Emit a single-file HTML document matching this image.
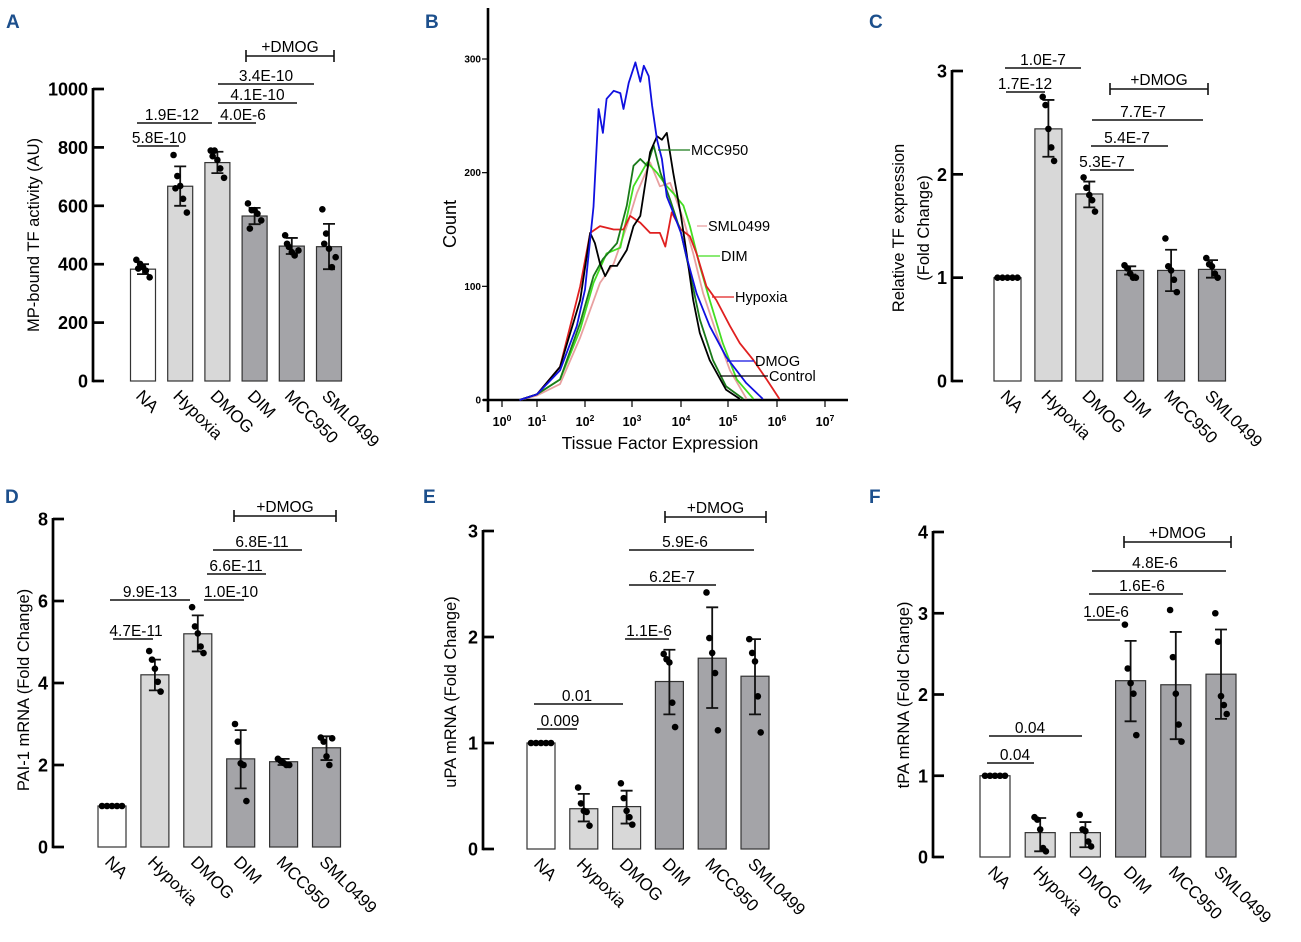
<!DOCTYPE html>
<html><head><meta charset="utf-8"><style>
html,body{margin:0;padding:0;background:#fff;}
svg{display:block;font-family:"Liberation Sans",Arial,sans-serif;}
</style></head><body>
<svg id="fig" width="1301" height="942" viewBox="0 0 1301 942" xmlns="http://www.w3.org/2000/svg">
<g font-weight="bold" font-size="19" fill="#1c4f8c">
<text x="6" y="28">A</text>
<text x="425" y="28">B</text>
<text x="869" y="28">C</text>
<text x="5" y="503">D</text>
<text x="423" y="503">E</text>
<text x="869" y="503">F</text>
</g>
</svg>
<script>
// ---------- shared categories ----------
const categories = ["NA","Hypoxia","DMOG","DIM","MCC950","SML0499"];

// ---------- Panel A data ----------
const aTicks = [0,200,400,600,800,1000];
const aMeans = [383,667,748,565,462,460];
const aErrHi = [400,735,785,593,490,538];
const aErrLo = [366,600,712,537,435,383];
const aPoints = [[415,401,390,378,355,385],[774,702,668,624,577,660],[789,789,757,728,696,770],[608,585,585,573,550,522],[499,459,441,430,447,470],[588,505,453,390,424,470]];
// ---------- Panel C data ----------
const cTicks = [0,1,2,3];
const cMeans = [1.0,2.44,1.81,1.07,1.07,1.08];
const cErrHi = [1.0,2.72,1.93,1.11,1.27,1.17];
const cErrLo = [1.0,2.17,1.68,1.03,0.87,1.0];
const cPoints = [[1,1,1,1,1],[2.75,2.67,2.44,2.26,2.13],[1.97,1.87,1.80,1.75,1.64],[1.12,1.09,1.04,1.0,1.0],[1.38,1.11,1.07,0.98,0.86],[1.19,1.13,1.11,1.04,1.0]];
// ---------- Panel D data ----------
const dTicks = [0,2,4,6,8];
const dMeans = [1,4.2,5.2,2.15,2.08,2.42];
const dErrHi = [1,4.57,5.65,2.85,2.15,2.7];
const dErrLo = [1,3.82,4.77,1.43,2.0,2.12];
const dPoints = [[1,1,1,1,1],[4.78,4.57,4.35,4.03,3.79],[5.85,5.38,5.21,4.89,4.73],[3.0,2.57,2.04,2.0,1.12],[2.15,2.1,2.05,2.0,2.0],[2.67,2.57,2.21,2.0,2.65]];
// ---------- Panel E data ----------
const eTicks = [0,1,2,3];
const eMeans = [1,0.38,0.40,1.58,1.80,1.63];
const eErrHi = [1,0.52,0.55,1.88,2.28,1.98];
const eErrLo = [1,0.26,0.24,1.27,1.33,1.27];
const ePoints = [[1,1,1,1,1],[0.58,0.43,0.36,0.35,0.22],[0.62,0.48,0.36,0.30,0.23],[1.84,1.79,1.76,1.38,1.15],[2.42,1.99,1.85,1.66,1.12],[1.98,1.85,1.77,1.44,1.10]];
// ---------- Panel F data ----------
const fTicks = [0,1,2,3,4];
const fMeans = [1,0.30,0.30,2.17,2.12,2.25];
const fErrHi = [1,0.48,0.43,2.66,2.77,2.80];
const fErrLo = [1,0.07,0.12,1.67,1.45,1.70];
const fPoints = [[1,1,1,1,1],[0.49,0.46,0.34,0.11,0.07],[0.52,0.34,0.32,0.19,0.13],[2.86,2.32,2.14,2.01,1.50],[3.04,2.46,2.01,1.63,1.42],[3.0,2.65,1.98,1.87,1.76]];

// ---------- Panel B (flow histogram) data: log10 expression / count ----------
const bXTicks = [0,1,2,3,4,5,6,7];
const bYTicks = [0,100,200,300];
const dmogLog = [0.5,1,1.48,1.83,2,2.18,2.29,2.38,2.46,2.61,2.75,2.82,2.93,3.07,3.17,3.24,3.34,3.41,3.51,3.61,3.71,3.84,4,4.12,4.33,4.61,4.96,5.37,5.71];
const dmogCount = [0,5,26,65,97,170,256,235,265,272,270,256,279,297,280,294,285,259,229,212,179,165,147,126,94,65,38,15,1];
const ctrlLog = [0.5,1,1.48,1.9,2.11,2.21,2.32,2.43,2.54,2.68,2.89,3.03,3.17,3.37,3.51,3.61,3.71,3.84,4,4.12,4.26,4.4,4.61,4.96,5.24];
const ctrlCount = [0,5,29,88,147,138,120,109,118,118,132,153,162,218,232,229,235,200,162,129,88,59,35,9,1];
const hypoLog = [0.5,1,1.48,1.9,2.11,2.32,2.61,2.82,2.96,3.17,3.37,3.57,3.68,3.81,4,4.19,4.33,4.54,4.75,5.04,5.24,5.52,5.79,6.05];
const hypoCount = [0,5,29,100,147,153,150,150,162,156,147,147,135,165,150,144,129,100,88,65,50,35,18,1];
const mccLog = [0.5,1,1.48,1.9,2.18,2.38,2.68,2.89,3.03,3.17,3.31,3.44,3.58,3.78,4,4.19,4.4,4.68,4.96,5.31];
const mccCount = [0,5,18,68,109,124,138,171,206,212,206,224,200,176,147,112,71,35,12,1];
const dimLog = [0.5,1,1.48,1.9,2.18,2.46,2.75,3.03,3.31,3.51,3.71,3.84,4.05,4.19,4.4,4.61,4.89,5.18,5.52];
const dimCount = [0,5,18,62,103,129,134,188,209,200,188,182,171,153,118,88,50,18,1];
const smlLog = [0.5,1,1.48,1.9,2.32,2.61,2.89,3.1,3.37,3.57,3.78,4.05,4.26,4.47,4.75,5.04,5.38];
const smlCount = [0,4,14,55,103,120,153,182,209,188,191,159,129,94,59,26,1];

const NS = "http://www.w3.org/2000/svg";
const svg = document.getElementById("fig");
function mk(tag, attrs, parent, txt){
  const el = document.createElementNS(NS, tag);
  for (const k in attrs) el.setAttribute(k, attrs[k]);
  if (txt !== undefined) el.textContent = txt;
  (parent || svg).appendChild(el);
  return el;
}
const fills = ["#ffffff","#d8d8d8","#d8d8d8","#a4a4a8","#a4a4a8","#a4a4a8"];
const jitter = [[-7,-3,0,3,7,-5],[-6,-3,0,3,6,0]];

function barPanel(cfg, ticks, means, hi, lo, pts, key){
  const g = mk("g", {});
  
  
  const ys = v => cfg.y0 - (v - 0) / (cfg.ymax) * (cfg.y0 - cfg.ytop);
  const xs = i => cfg.x0c + i * cfg.step;
  const ax = mk("line", {x1:cfg.ax, x2:cfg.ax, y1:ys(ticks[ticks.length-1]) - 1, y2:ys(0) + 1.3, stroke:"#000", "stroke-width":2.7}, g);
  
  
  ticks.forEach(t => {
    const tk = mk("line", {x1:cfg.ax, x2:cfg.ax + 11, y1:ys(t), y2:ys(t), stroke:"#000", "stroke-width":2.7}, g);
    
    
    const tl = mk("text", {x:cfg.ax - 5, y:ys(t) + 6.5, "text-anchor":"end", "font-size":18, "font-weight":"bold"}, g, String(t));
    
    
  });
  cfg.title.forEach((line, k) => {
    const tx = cfg.titleX + k * cfg.titleDx;
    const tt = mk("text", {x:tx, y:cfg.titleY, "text-anchor":"middle", "font-size":16.5, transform:`rotate(-90 ${tx} ${cfg.titleY})`}, g, line);
    
    
  });
  const bw = cfg.bw;
  means.forEach((m, i) => {
    const cx = xs(i);
    const r = mk("rect", {x:cx - bw/2, y:ys(m), width:bw, height:ys(0) - ys(m), fill:fills[i], stroke:"#333", "stroke-width":1.2}, g);
    
    
    if (hi[i] !== lo[i]) {
      const eb = mk("path", {d:`M${cx} ${ys(hi[i])}V${ys(lo[i])}M${cx-6} ${ys(hi[i])}H${cx+6}M${cx-6} ${ys(lo[i])}H${cx+6}`, stroke:"#111", "stroke-width":1.8, fill:"none"}, g);
      
      
    }
    pts[i].forEach((p, j) => {
      const jx = pts[i].length === 5 && i === 0 ? (j - 2) * 5 : jitter[pts[i].length === 6 ? 0 : 1][j] * 0.95;
      const c = mk("circle", {cx:cx + jx, cy:ys(p), r:3.3, fill:"#000"}, g);
      
      
    });
    const lx = cx - 8, ly = ys(0) + 16;
    const cl = mk("text", {x:lx, y:ly, "font-size":17, transform:`rotate(45 ${lx} ${ly})`}, g, categories[i]);
    
    
  });
  cfg.sig.forEach(s => {
    const ln = mk("line", {x1:s[1], x2:s[2], y1:s[3], y2:s[3], stroke:"#111", "stroke-width":1.6}, g);
    
    
    const tx = s[4] !== undefined ? s[4] : (s[1] + s[2]) / 2;
    const st = mk("text", {x:tx, y:s[3] - 3, "text-anchor":"middle", "font-size":15.5}, g, s[0]);
    
    
  });
  const b = cfg.dmog;
  const br = mk("path", {d:`M${b[0]} ${b[2]}H${b[1]}M${b[0]} ${b[2]-6}V${b[2]+6}M${b[1]} ${b[2]-6}V${b[2]+6}`, stroke:"#111", "stroke-width":1.6, fill:"none"}, g);
  
  
  const bt = mk("text", {x:(b[0]+b[1])/2, y:b[2] - 4, "text-anchor":"middle", "font-size":15.5}, g, "+DMOG");
  
  
}

barPanel({ax:93, y0:381, ytop:89, ymax:1000, x0c:143, step:37.2, bw:25,
  title:["MP-bound TF activity (AU)"], titleX:39, titleDx:0, titleY:235,
  sig:[["5.8E-10",137,179,146,159],["1.9E-12",137,212,123,172],["4.0E-6",218,256,123,243],["4.1E-10",218,297,103],["3.4E-10",218,314,84]],
  dmog:[246,334,56]}, aTicks, aMeans, aErrHi, aErrLo, aPoints, "a");

barPanel({ax:952, y0:381, ytop:71, ymax:3, x0c:1007.5, step:40.9, bw:27,
  title:["Relative TF expression","(Fold Change)"], titleX:904, titleDx:25, titleY:228,
  sig:[["1.0E-7",1005,1081,68],["1.7E-12",1006,1045,92,1025],["7.7E-7",1092,1203,120,1143],["5.4E-7",1091,1168,146,1127],["5.3E-7",1090,1134,170,1102]],
  dmog:[1110,1208,89]}, cTicks, cMeans, cErrHi, cErrLo, cPoints, "c");

barPanel({ax:53, y0:847, ytop:519, ymax:8, x0c:112, step:42.9, bw:28,
  title:["PAI-1 mRNA (Fold Change)"], titleX:29, titleDx:0, titleY:690,
  sig:[["4.7E-11",113,153,639,136],["9.9E-13",110,190,600,150],["1.0E-10",204,244,600,231],["6.6E-11",207,266,574,236],["6.8E-11",213,302,550,262]],
  dmog:[234,336,516]}, dTicks, dMeans, dErrHi, dErrLo, dPoints, "d");

barPanel({ax:483, y0:849, ytop:531, ymax:3, x0c:541, step:42.8, bw:28,
  title:["uPA mRNA (Fold Change)"], titleX:456, titleDx:0, titleY:692,
  sig:[["0.009",537,577,729,560],["0.01",534,623,704,577],["1.1E-6",625,669,639,649],["6.2E-7",629,716,585,672],["5.9E-6",629,754,550,685]],
  dmog:[665,766,517]}, eTicks, eMeans, eErrHi, eErrLo, ePoints, "e");

barPanel({ax:933, y0:857, ytop:532, ymax:4, x0c:995, step:45.2, bw:30,
  title:["tPA mRNA (Fold Change)"], titleX:909, titleDx:0, titleY:695,
  sig:[["0.04",987,1034,763,1015],["0.04",989,1082,736,1030],["1.0E-6",1087,1120,620,1106],["1.6E-6",1089,1183,594,1142],["4.8E-6",1092,1226,571,1155]],
  dmog:[1124,1231,542]}, fTicks, fMeans, fErrHi, fErrLo, fPoints, "f");

// ---------- Panel B ----------
(function(){
  const g = mk("g", {});
  
  
  const decadePx = [502,537,585,632,681,728,777,825];
  const xs = lg => {
    if (lg <= 0) return decadePx[0] + lg * 35;
    const i = Math.min(Math.floor(lg), 6);
    return decadePx[i] + (lg - i) * (decadePx[i+1] - decadePx[i]);
  };
  const ys = c => 400 - c * (400 - 59) / 300;
  const ax = mk("path", {d:"M488 8V412M483 400H848", stroke:"#000", "stroke-width":2.6, fill:"none"}, g);
  
  
  bYTicks.forEach(t => {
    const tk = mk("line", {x1:482, x2:488, y1:ys(t), y2:ys(t), stroke:"#000", "stroke-width":1.2}, g);
    
    
    const tl = mk("text", {x:481, y:ys(t) + 3.5, "text-anchor":"end", "font-size":10, "font-weight":"bold"}, g, String(t));
    
    
  });
  bXTicks.forEach(t => {
    const tk = mk("line", {x1:xs(t), x2:xs(t), y1:400, y2:407, stroke:"#000", "stroke-width":1.2}, g);
    
    
    const tl = mk("text", {x:xs(t), y:426, "text-anchor":"middle", "font-size":12.5, "font-weight":"bold"}, g);
    
    
    mk("tspan", {}, tl, "10");
    mk("tspan", {dy:-5, "font-size":8.5}, tl, String(t));
  });
  const yt = mk("text", {x:456, y:224, "text-anchor":"middle", "font-size":18, transform:"rotate(-90 456 224)"}, g, "Count");
  
  
  const xt = mk("text", {x:660, y:449, "text-anchor":"middle", "font-size":17.5}, g, "Tissue Factor Expression");
  
  
  const series = [
    ["sml0499", smlLog, smlCount, "#e8a0a0"],
    ["dim", dimLog, dimCount, "#44dd22"],
    ["hypoxia", hypoLog, hypoCount, "#e02020"],
    ["mcc950", mccLog, mccCount, "#1a7a1a"],
    ["control", ctrlLog, ctrlCount, "#000000"],
    ["dmog", dmogLog, dmogCount, "#1010e0"]
  ];
  series.forEach(s => {
    const d = s[1].map((v, i) => (i ? "L" : "M") + xs(v).toFixed(1) + " " + ys(s[2][i]).toFixed(1)).join("");
    const p = mk("path", {d:d, stroke:s[3], "stroke-width":1.8, fill:"none", "stroke-linejoin":"round"}, g);
    
    
  });
  const labels = [["MCC950",658,690,150,"#1a7a1a"],["SML0499",697,707,226,"#e8a0a0"],["DIM",698,720,256,"#44dd22"],["Hypoxia",712,734,297,"#e02020"],["DMOG",727,754,361,"#1010e0"],["Control",720,768,376,"#000"]];
  labels.forEach(l => {
    const ln = mk("line", {x1:l[1], x2:l[2], y1:l[3], y2:l[3], stroke:l[4], "stroke-width":1.3}, g);
    
    
    const t = mk("text", {x:l[2] + 1, y:l[3] + 5, "font-size":14.5}, g, l[0]);
    
    
  });
})();
</script>
</body></html>
